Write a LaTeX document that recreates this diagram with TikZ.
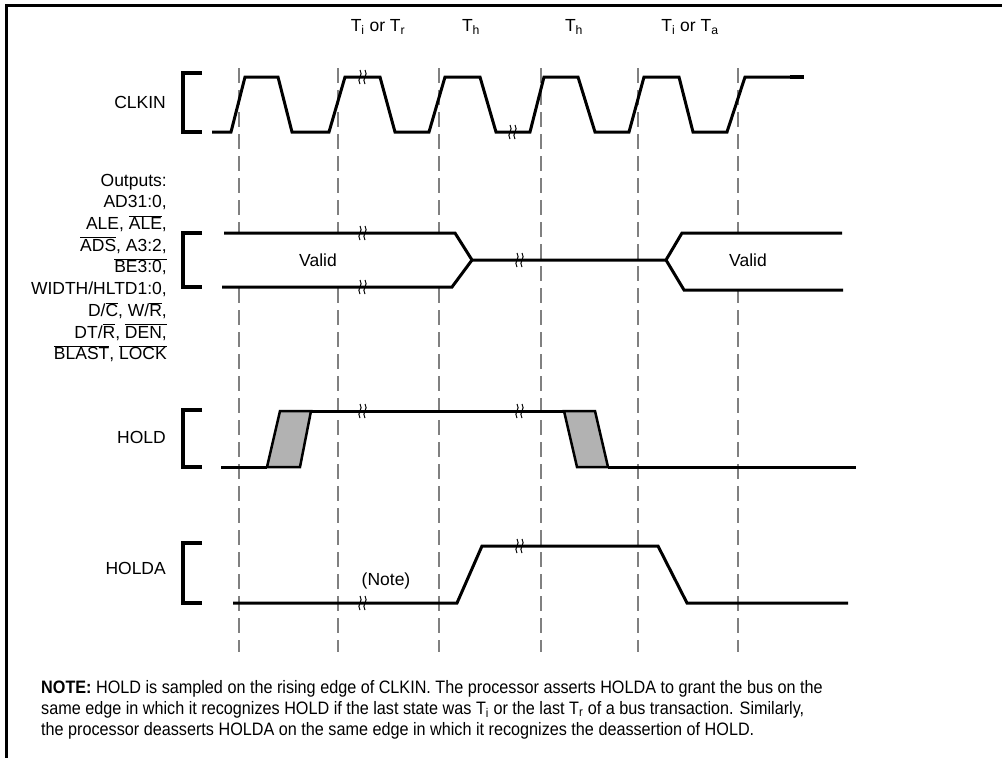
\documentclass[tikz,border=0pt]{standalone}
\usepackage{fontspec}
\setmainfont{Liberation Sans}
\newfontfamily\notefont{Liberation Sans}[FakeStretch=0.9]
\usetikzlibrary{positioning}

\newcommand{\ovl}[1]{$\overline{\mbox{#1}}$}

\begin{document}
\begin{tikzpicture}[x=1pt,y=-1pt,
  sig/.style={line width=3pt,line join=miter},
  bkt/.style={line width=4pt},
  grid/.style={draw=black!50,line width=1.6pt,dash pattern=on 15pt off 7pt},
  lbl/.style={font=\fontsize{17.5}{21.7}\selectfont,inner sep=0pt},
  tf/.style={fill=black!30,draw=black,line width=2.5pt,line join=miter},
  brk/.pic={\draw[line width=1pt] (-2,-7) .. controls (2,-2) and (-6,2) .. (-2,7);
            \draw[line width=1pt] (3,-7) .. controls (7,-2) and (-1,2) .. (3,7);}]
\useasboundingbox (0,0) rectangle (1002,758);

% frame
\draw[line width=3pt] (6,758) -- (6,5) -- (1002,5);

% clock edges
\foreach \x in {239,338,439,541,638,738}
  \draw[grid] (\x,68) -- (\x,652);

% states
\node[lbl] (s1) at (378,27) {T\textsubscript{i} or T\textsubscript{r}};
\node[lbl] (s2) at (471,27) {T\textsubscript{h}};
\node[lbl] (s3) at (574,27) {T\textsubscript{h}};
\node[lbl] (s4) at (690,27) {T\textsubscript{i} or T\textsubscript{a}};

% signal names
\node[lbl,anchor=east] (clk) at (166,102) {CLKIN};
\node[lbl,anchor=east,align=right] (outs) at (167,268) {Outputs:\\
  AD31:0,\\
  ALE, \ovl{ALE},\\
  \ovl{ADS}, A3:2,\\
  \ovl{BE3:0,}\\
  WIDTH/HLTD1:0,\\
  D/\ovl{C}, W/\ovl{R},\\
  DT/\ovl{R}, \ovl{DEN,}\\
  \ovl{BLAST}, \ovl{LOCK}};
\node[lbl,anchor=east] (hold) at (166,437) {HOLD};
\node[lbl,anchor=east] (holda) at (166,568) {HOLDA};

% brackets
\foreach \t/\b in {73/132,233/287,410/467,543/603}
  \draw[bkt] (202,\t) -- (183,\t) -- (183,\b) -- (202,\b);

% CLKIN
\draw[sig] (212,132) -- (231,132) -- (245,77) -- (278,77) -- (292,132) -- (329,132)
  -- (345,77) -- (380,77) -- (395,132) -- (429,132) -- (445,77) -- (480,77)
  -- (496,132) -- (530,132) -- (544,77) -- (578,77) -- (595,132) -- (629,132)
  -- (644,77) -- (679,77) -- (693,132) -- (727,132) -- (745,77) -- (790,77);
\draw[line width=4pt] (790,77) -- (804,77);
\pic at (362,77) {brk};
\pic at (512,132) {brk};

% outputs bus
\fill[white] (224,233) -- (455,233) -- (472,260) -- (452,287) -- (222,287) -- cycle;
\fill[white] (666,260) -- (682,233) -- (842,233) -- (843,290) -- (684,290) -- cycle;
\draw[sig] (224,233) -- (455,233) -- (472,260) -- (666,260) -- (682,233) -- (842,233);
\draw[sig] (222,287) -- (452,287) -- (472,260);
\draw[sig] (666,260) -- (684,290) -- (843,290);
\node[lbl] (v1) at (318,260) {Valid};
\node[lbl] (v2) at (748,260) {Valid};
\pic at (362,233) {brk};
\pic at (362,287) {brk};
\pic at (519,260) {brk};

% HOLD
\draw[sig] (221,467) -- (267,467);
\draw[tf] (267,467) -- (280,411) -- (311,411) -- (300,467) -- cycle;
\draw[sig] (311,411) -- (588,411);
\draw[tf] (564,411) -- (595,411) -- (608,467) -- (577,467) -- cycle;
\draw[sig] (608,467) -- (856,467);
\pic at (362,411) {brk};
\pic at (519,411) {brk};

% HOLDA
\draw[sig] (233,603) -- (457,603) -- (482,546) -- (658,546) -- (687,603) -- (848,603);
\node[lbl] (nt) at (386,581) {(Note)};
\pic at (362,603) {brk};
\pic at (519,546) {brk};

% note
\node[anchor=north west,align=left,inner sep=0pt,
  font=\notefont\fontsize{18}{21}\selectfont] (note) at (41,680)
  {\textbf{NOTE:} HOLD is sampled on the rising edge of CLKIN. The processor asserts HOLDA to grant the bus on the\\
   same edge in which it recognizes HOLD if the last state was T\textsubscript{i} or the last T\textsubscript{r} of a bus transaction. Similarly,\\
   the processor deasserts HOLDA on the same edge in which it recognizes the deassertion of HOLD.};
\end{tikzpicture}
\end{document}
